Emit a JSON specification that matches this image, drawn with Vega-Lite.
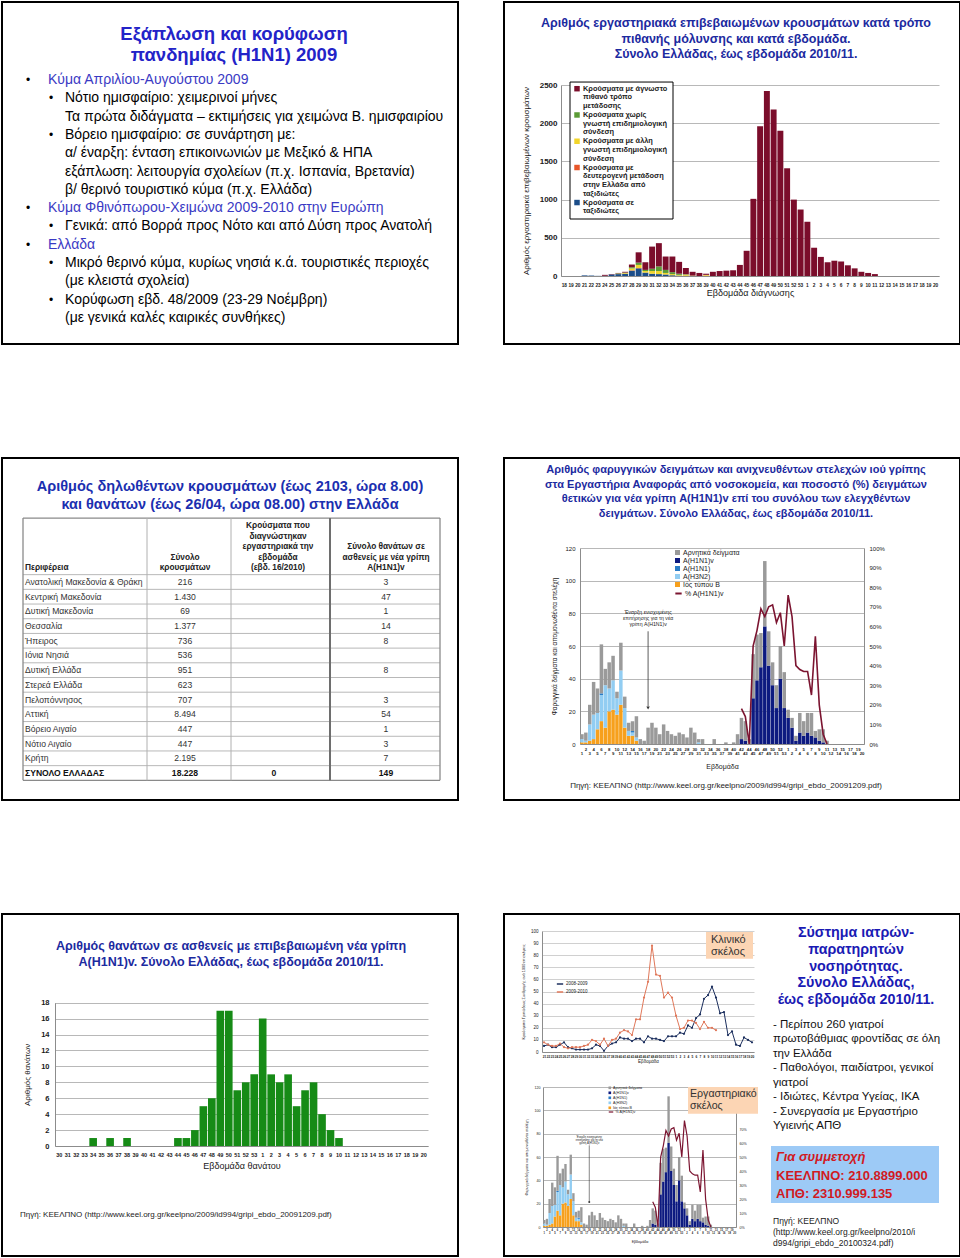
{
"$schema":"https://vega.github.io/schema/vega-lite/v6.json",
"background":"white",
"padding":{"left":1,"top":1,"right":1,"bottom":1},
"columns":2,
"spacing":{"row":114,"column":46},
"bounds":"flush",
"config":{
 "font":"Liberation Sans",
 "view":{"stroke":"#000000","strokeWidth":2,"fill":"#ffffff"},
 "axis":{"labelFont":"Liberation Sans","titleFont":"Liberation Sans","labelColor":"#1a1a1a","titleColor":"#1a1a1a","titleFontWeight":"normal","domainColor":"#8c8c8c","domainWidth":1,"gridColor":"#a6a6a6","gridWidth":0.8,"ticks":false,"labelOverlap":false,"labelFlush":false,"labelBound":false},
 "legend":{"labelFont":"Liberation Sans","labelColor":"#1a1a1a"},
 "text":{"font":"Liberation Sans"}
},
"datasets":{
 "p1":[
  {"line":1,"lvl":1,"b":1,"t":"Κύμα Απριλίου-Αυγούστου 2009"},
  {"line":2,"lvl":2,"b":1,"t":"Νότιο ημισφαίριο: χειμερινοί μήνες"},
  {"line":3,"lvl":2,"b":0,"t":"Τα πρώτα διδάγματα – εκτιμήσεις για χειμώνα Β. ημισφαιρίου"},
  {"line":4,"lvl":2,"b":1,"t":"Βόρειο ημισφαίριο: σε συνάρτηση με:"},
  {"line":5,"lvl":2,"b":0,"t":"α/ έναρξη: ένταση επικοινωνιών με Μεξικό & ΗΠΑ"},
  {"line":6,"lvl":2,"b":0,"t":"εξάπλωση: λειτουργία σχολείων (π.χ. Ισπανία, Βρετανία)"},
  {"line":7,"lvl":2,"b":0,"t":"β/ θερινό τουριστικό κύμα (π.χ. Ελλάδα)"},
  {"line":8,"lvl":1,"b":1,"t":"Κύμα Φθινόπωρου-Χειμώνα 2009-2010 στην Ευρώπη"},
  {"line":9,"lvl":2,"b":1,"t":"Γενικά: από Βορρά προς Νότο και από Δύση προς Ανατολή"},
  {"line":10,"lvl":1,"b":1,"t":"Ελλάδα"},
  {"line":11,"lvl":2,"b":1,"t":"Μικρό θερινό κύμα, κυρίως νησιά κ.ά. τουριστικές περιοχές"},
  {"line":12,"lvl":2,"b":0,"t":"(με κλειστά σχολεία)"},
  {"line":13,"lvl":2,"b":1,"t":"Κορύφωση εβδ. 48/2009 (23-29 Νοέμβρη)"},
  {"line":14,"lvl":2,"b":0,"t":"(με γενικά καλές καιρικές συνθήκες)"}
 ],
 "p2leg":[
  {"ln":1,"t":"Κρούσματα με άγνωστο","k":"e"},{"ln":2,"t":"πιθανό τρόπο"},{"ln":3,"t":"μετάδοσης"},
  {"ln":4,"t":"Κρούσματα χωρίς","k":"d"},{"ln":5,"t":"γνωστή επιδημιολογική"},{"ln":6,"t":"σύνδεση"},
  {"ln":7,"t":"Κρούσματα με άλλη","k":"c"},{"ln":8,"t":"γνωστή επιδημιολογική"},{"ln":9,"t":"σύνδεση"},
  {"ln":10,"t":"Κρούσματα με","k":"b"},{"ln":11,"t":"δευτερογενή μετάδοση"},{"ln":12,"t":"στην Ελλάδα από"},{"ln":13,"t":"ταξιδιώτες"},
  {"ln":14,"t":"Κρούσματα σε","k":"a"},{"ln":15,"t":"ταξιδιώτες"}
 ],
 "cases":[
  {"i":0,"a":0,"b":0,"c":0,"d":0,"e":0},{"i":1,"a":0,"b":0,"c":0,"d":0,"e":0},{"i":2,"a":0,"b":0,"c":0,"d":0,"e":0},
  {"i":3,"a":8,"b":0,"c":0,"d":0,"e":0},{"i":4,"a":6,"b":0,"c":0,"d":0,"e":0},{"i":5,"a":2,"b":0,"c":0,"d":0,"e":0},
  {"i":6,"a":3,"b":0,"c":0,"d":0,"e":12},{"i":7,"a":20,"b":0,"c":0,"d":0,"e":5},{"i":8,"a":25,"b":0,"c":5,"d":5,"e":5},
  {"i":9,"a":30,"b":0,"c":10,"d":5,"e":10},{"i":10,"a":70,"b":5,"c":25,"d":15,"e":35},{"i":11,"a":100,"b":5,"c":40,"d":30,"e":135},
  {"i":12,"a":45,"b":0,"c":20,"d":15,"e":100},{"i":13,"a":30,"b":0,"c":35,"d":30,"e":290},{"i":14,"a":25,"b":0,"c":40,"d":60,"e":305},
  {"i":15,"a":20,"b":0,"c":20,"d":40,"e":175},{"i":16,"a":10,"b":0,"c":15,"d":25,"e":205},{"i":17,"a":5,"b":0,"c":10,"d":15,"e":155},
  {"i":18,"a":3,"b":0,"c":15,"d":5,"e":82},{"i":19,"a":0,"b":0,"c":5,"d":0,"e":50},{"i":20,"a":0,"b":0,"c":0,"d":0,"e":40},
  {"i":21,"a":0,"b":5,"c":10,"d":0,"e":15},{"i":22,"a":0,"b":0,"c":0,"d":0,"e":55},{"i":23,"a":0,"b":0,"c":0,"d":0,"e":65},
  {"i":24,"a":0,"b":0,"c":0,"d":0,"e":70},{"i":25,"a":0,"b":0,"c":0,"d":0,"e":75},{"i":26,"a":0,"b":0,"c":0,"d":0,"e":145},
  {"i":27,"a":0,"b":0,"c":0,"d":0,"e":330},{"i":28,"a":0,"b":0,"c":0,"d":0,"e":1010},{"i":29,"a":0,"b":0,"c":0,"d":0,"e":1960},
  {"i":30,"a":0,"b":0,"c":0,"d":0,"e":2420},{"i":31,"a":0,"b":0,"c":0,"d":0,"e":2180},{"i":32,"a":0,"b":0,"c":0,"d":0,"e":1900},
  {"i":33,"a":0,"b":0,"c":0,"d":0,"e":1410},{"i":34,"a":0,"b":0,"c":0,"d":0,"e":1000},{"i":35,"a":0,"b":0,"c":0,"d":0,"e":870},
  {"i":36,"a":0,"b":0,"c":0,"d":0,"e":710},{"i":37,"a":0,"b":0,"c":0,"d":0,"e":370},{"i":38,"a":0,"b":0,"c":0,"d":0,"e":250},
  {"i":39,"a":0,"b":0,"c":0,"d":0,"e":180},{"i":40,"a":0,"b":0,"c":0,"d":0,"e":200},{"i":41,"a":0,"b":0,"c":0,"d":0,"e":190},
  {"i":42,"a":0,"b":0,"c":0,"d":0,"e":140},{"i":43,"a":0,"b":0,"c":0,"d":0,"e":100},{"i":44,"a":0,"b":0,"c":0,"d":0,"e":55},
  {"i":45,"a":0,"b":0,"c":0,"d":0,"e":40},{"i":46,"a":0,"b":0,"c":0,"d":0,"e":25},{"i":47,"a":0,"b":0,"c":0,"d":0,"e":0},
  {"i":48,"a":0,"b":0,"c":0,"d":0,"e":0},{"i":49,"a":0,"b":0,"c":0,"d":0,"e":0},{"i":50,"a":0,"b":0,"c":0,"d":0,"e":0},
  {"i":51,"a":0,"b":0,"c":0,"d":0,"e":0},{"i":52,"a":0,"b":0,"c":0,"d":0,"e":0},{"i":53,"a":0,"b":0,"c":0,"d":0,"e":0},
  {"i":54,"a":0,"b":0,"c":0,"d":0,"e":0},{"i":55,"a":0,"b":0,"c":0,"d":0,"e":0}
 ],
 "p3":[
  {"r":0,"reg":"Ανατολική Μακεδονία & Θράκη","cases":"216","lab":"","deaths":"3"},
  {"r":1,"reg":"Κεντρική Μακεδονία","cases":"1.430","lab":"","deaths":"47"},
  {"r":2,"reg":"Δυτική Μακεδονία","cases":"69","lab":"","deaths":"1"},
  {"r":3,"reg":"Θεσσαλία","cases":"1.377","lab":"","deaths":"14"},
  {"r":4,"reg":"Ήπειρος","cases":"736","lab":"","deaths":"8"},
  {"r":5,"reg":"Ιόνια Νησιά","cases":"536","lab":"","deaths":""},
  {"r":6,"reg":"Δυτική Ελλάδα","cases":"951","lab":"","deaths":"8"},
  {"r":7,"reg":"Στερεά Ελλάδα","cases":"623","lab":"","deaths":""},
  {"r":8,"reg":"Πελοπόννησος","cases":"707","lab":"","deaths":"3"},
  {"r":9,"reg":"Αττική","cases":"8.494","lab":"","deaths":"54"},
  {"r":10,"reg":"Βόρειο Αιγαίο","cases":"447","lab":"","deaths":"1"},
  {"r":11,"reg":"Νότιο Αιγαίο","cases":"447","lab":"","deaths":"3"},
  {"r":12,"reg":"Κρήτη","cases":"2.195","lab":"","deaths":"7"},
  {"r":13,"reg":"ΣΥΝΟΛΟ ΕΛΛΑΔΑΣ","cases":"18.228","lab":"0","deaths":"149"}
 ],
 "p3head":[
  {"c":1,"hl":5,"t":"Περιφέρεια"},
  {"c":2,"hl":4,"t":"Σύνολο"},{"c":2,"hl":5,"t":"κρουσμάτων"},
  {"c":3,"hl":1,"t":"Κρούσματα που"},{"c":3,"hl":2,"t":"διαγνώστηκαν"},{"c":3,"hl":3,"t":"εργαστηριακά την"},{"c":3,"hl":4,"t":"εβδομάδα"},{"c":3,"hl":5,"t":"(εβδ. 16/2010)"},
  {"c":4,"hl":3,"t":"Σύνολο θανάτων σε"},{"c":4,"hl":4,"t":"ασθενείς με νέα γρίπη"},{"c":4,"hl":5,"t":"A(H1N1)v"}
 ],
 "samples":[
  {"i":0,"k1":1,"k2":2,"k3":0,"k4":0,"k5":3},{"i":1,"k1":1,"k2":1,"k3":0,"k4":0,"k5":5},{"i":2,"k1":2,"k2":10,"k3":0,"k4":0,"k5":12},
  {"i":3,"k1":3,"k2":15,"k3":0,"k4":0,"k5":20},{"i":4,"k1":9,"k2":10,"k3":0,"k4":0,"k5":15},{"i":5,"k1":14,"k2":16,"k3":1,"k4":0,"k5":30},
  {"i":6,"k1":10,"k2":26,"k3":0,"k4":0,"k5":10},{"i":7,"k1":20,"k2":14,"k3":0,"k4":0,"k5":16},{"i":8,"k1":21,"k2":18,"k3":0,"k4":0,"k5":15},
  {"i":9,"k1":18,"k2":10,"k3":0,"k4":0,"k5":4},{"i":10,"k1":24,"k2":21,"k3":0,"k4":0,"k5":17},{"i":11,"k1":10,"k2":12,"k3":0,"k4":0,"k5":7},
  {"i":12,"k1":5,"k2":3,"k3":0,"k4":0,"k5":5},{"i":13,"k1":5,"k2":2,"k3":1,"k4":0,"k5":6},{"i":14,"k1":2,"k2":2,"k3":0,"k4":0,"k5":13},
  {"i":15,"k1":0,"k2":0,"k3":0,"k4":0,"k5":3},{"i":16,"k1":0,"k2":0,"k3":0,"k4":0,"k5":2},{"i":17,"k1":0,"k2":0,"k3":0,"k4":0,"k5":10},
  {"i":18,"k1":0,"k2":0,"k3":0,"k4":0,"k5":13},{"i":19,"k1":0,"k2":0,"k3":0,"k4":0,"k5":10},{"i":20,"k1":0,"k2":0,"k3":0,"k4":0,"k5":6},
  {"i":21,"k1":0,"k2":0,"k3":0,"k4":0,"k5":12},{"i":22,"k1":0,"k2":0,"k3":0,"k4":0,"k5":8},{"i":23,"k1":0,"k2":0,"k3":0,"k4":0,"k5":6},
  {"i":24,"k1":0,"k2":0,"k3":0,"k4":0,"k5":5},{"i":25,"k1":0,"k2":0,"k3":0,"k4":0,"k5":7},{"i":26,"k1":0,"k2":0,"k3":0,"k4":0,"k5":6},
  {"i":27,"k1":0,"k2":0,"k3":0,"k4":0,"k5":4},{"i":28,"k1":0,"k2":0,"k3":0,"k4":0,"k5":10},{"i":29,"k1":0,"k2":0,"k3":0,"k4":0,"k5":7},
  {"i":30,"k1":0,"k2":1,"k3":0,"k4":0,"k5":2},{"i":31,"k1":0,"k2":0,"k3":0,"k4":0,"k5":3},{"i":32,"k1":0,"k2":0,"k3":0,"k4":0,"k5":0},
  {"i":33,"k1":0,"k2":0,"k3":0,"k4":0,"k5":0},{"i":34,"k1":0,"k2":0,"k3":0,"k4":0,"k5":3},{"i":35,"k1":0,"k2":0,"k3":0,"k4":0,"k5":0},
  {"i":36,"k1":0,"k2":0,"k3":0,"k4":0,"k5":0},{"i":37,"k1":0,"k2":0,"k3":0,"k4":0,"k5":1},{"i":38,"k1":0,"k2":0,"k3":0,"k4":0,"k5":0},
  {"i":39,"k1":0,"k2":0,"k3":0,"k4":0,"k5":1},{"i":40,"k1":0,"k2":0,"k3":0,"k4":0,"k5":6},
  {"i":41,"k1":0,"k2":0,"k3":0,"k4":3,"k5":13,"p":0.18},{"i":42,"k1":0,"k2":0,"k3":0,"k4":2,"k5":12,"p":0.14},
  {"i":43,"k1":0,"k2":0,"k3":0,"k4":0,"k5":3,"p":0},{"i":44,"k1":0,"k2":0,"k3":0,"k4":28,"k5":27,"p":0.5},
  {"i":45,"k1":0,"k2":0,"k3":0,"k4":39,"k5":28,"p":0.58},{"i":46,"k1":0,"k2":0,"k3":0,"k4":47,"k5":21,"p":0.69},
  {"i":47,"k1":0,"k2":0,"k3":0,"k4":72,"k5":40,"p":0.65},{"i":48,"k1":0,"k2":0,"k3":0,"k4":48,"k5":21,"p":0.7},
  {"i":49,"k1":0,"k2":0,"k3":0,"k4":36,"k5":14,"p":0.71},{"i":50,"k1":0,"k2":0,"k3":0,"k4":22,"k5":14,"p":0.62},
  {"i":51,"k1":0,"k2":0,"k3":0,"k4":40,"k5":20,"p":0.67},{"i":52,"k1":0,"k2":0,"k3":0,"k4":22,"k5":22,"p":0.5},
  {"i":53,"k1":0,"k2":0,"k3":0,"k4":16,"k5":5,"p":0.76},{"i":54,"k1":0,"k2":0,"k3":0,"k4":10,"k5":6,"p":0.65},
  {"i":55,"k1":0,"k2":0,"k3":0,"k4":2,"k5":3,"p":0.4},{"i":56,"k1":0,"k2":0,"k3":0,"k4":7,"k5":12,"p":0.38},
  {"i":57,"k1":0,"k2":0,"k3":0,"k4":5,"k5":9,"p":0.37},{"i":58,"k1":0,"k2":0,"k3":0,"k4":7,"k5":12,"p":0.37},
  {"i":59,"k1":0,"k2":0,"k3":0,"k4":5,"k5":14,"p":0.25},{"i":60,"k1":0,"k2":0,"k3":0,"k4":4,"k5":4,"p":0.55},
  {"i":61,"k1":0,"k2":0,"k3":0,"k4":2,"k5":7,"p":0.2},{"i":62,"k1":0,"k2":0,"k3":0,"k4":1,"k5":8,"p":0.05},
  {"i":63,"k1":0,"k2":0,"k3":0,"k4":0,"k5":2,"p":0},
  {"i":64,"k1":0,"k2":0,"k3":0,"k4":0,"k5":0},{"i":65,"k1":0,"k2":0,"k3":0,"k4":0,"k5":0},{"i":66,"k1":0,"k2":0,"k3":0,"k4":0,"k5":0},
  {"i":67,"k1":0,"k2":0,"k3":0,"k4":0,"k5":0},{"i":68,"k1":0,"k2":0,"k3":0,"k4":0,"k5":0},{"i":69,"k1":0,"k2":0,"k3":0,"k4":0,"k5":0},
  {"i":70,"k1":0,"k2":0,"k3":0,"k4":0,"k5":0},{"i":71,"k1":0,"k2":0,"k3":0,"k4":0,"k5":0},{"i":72,"k1":0,"k2":0,"k3":0,"k4":0,"k5":0}
 ],
 "deaths":[
  {"i":0,"n":0},{"i":1,"n":0},{"i":2,"n":0},{"i":3,"n":0},{"i":4,"n":1},{"i":5,"n":0},{"i":6,"n":1},{"i":7,"n":0},{"i":8,"n":1},{"i":9,"n":0},
  {"i":10,"n":0},{"i":11,"n":0},{"i":12,"n":0},{"i":13,"n":0},{"i":14,"n":1},{"i":15,"n":1},{"i":16,"n":2},{"i":17,"n":5},{"i":18,"n":6},{"i":19,"n":17},
  {"i":20,"n":17},{"i":21,"n":7},{"i":22,"n":8},{"i":23,"n":9},{"i":24,"n":16},{"i":25,"n":9},{"i":26,"n":8},{"i":27,"n":9},{"i":28,"n":5},{"i":29,"n":7},
  {"i":30,"n":8},{"i":31,"n":4},{"i":32,"n":2},{"i":33,"n":1},{"i":34,"n":0},{"i":35,"n":0},{"i":36,"n":0},{"i":37,"n":0},{"i":38,"n":0},{"i":39,"n":0},
  {"i":40,"n":0},{"i":41,"n":0},{"i":42,"n":0},{"i":43,"n":0}
 ],
 "sent":[
  {"i":0,"s08":5,"s09":8},{"i":1,"s08":6,"s09":6},{"i":2,"s08":4,"s09":5},{"i":3,"s08":4,"s09":5},{"i":4,"s08":6,"s09":7},
  {"i":5,"s08":8,"s09":4},{"i":6,"s08":4,"s09":3},{"i":7,"s08":3,"s09":4},{"i":8,"s08":2,"s09":4},{"i":9,"s08":2,"s09":4},
  {"i":10,"s08":2,"s09":5},{"i":11,"s08":2,"s09":6},{"i":12,"s08":3,"s09":10},{"i":13,"s08":6,"s09":9},{"i":14,"s08":5,"s09":6},
  {"i":15,"s08":1,"s09":11},{"i":16,"s08":5,"s09":5},{"i":17,"s08":7,"s09":10},{"i":18,"s08":8,"s09":11},{"i":19,"s08":12,"s09":16},
  {"i":20,"s08":11,"s09":18},{"i":21,"s08":11,"s09":17},{"i":22,"s08":9,"s09":14},{"i":23,"s08":11,"s09":27},{"i":24,"s08":11,"s09":27},
  {"i":25,"s08":8,"s09":45},{"i":26,"s08":13,"s09":58},{"i":27,"s08":11,"s09":88},{"i":28,"s08":11,"s09":64},{"i":29,"s08":10,"s09":63},
  {"i":30,"s08":9,"s09":45},{"i":31,"s08":13,"s09":49},{"i":32,"s08":13,"s09":45},{"i":33,"s08":13,"s09":30},{"i":34,"s08":16,"s09":19},
  {"i":35,"s08":15,"s09":20},{"i":36,"s08":22,"s09":26},{"i":37,"s08":20,"s09":26},{"i":38,"s08":28,"s09":24},{"i":39,"s08":31,"s09":19},
  {"i":40,"s08":44,"s09":25},{"i":41,"s08":47,"s09":20},{"i":42,"s08":54,"s09":20},{"i":43,"s08":45,"s09":18},{"i":44,"s08":32},
  {"i":45,"s08":33},{"i":46,"s08":14},{"i":47,"s08":17},{"i":48,"s08":6},{"i":49,"s08":5},{"i":50,"s08":12},{"i":51,"s08":10},{"i":52,"s08":8}
 ]
},
"concat":[
 {
  "width":456,"height":342,
  "resolve":{"scale":{"x":"independent","y":"independent"}},
  "layer":[
   {"data":{"values":[{"line":1,"t":"Εξάπλωση και κορύφωση"},{"line":2,"t":"πανδημίας (H1N1) 2009"}]},
    "mark":{"type":"text","fontSize":18.5,"fontWeight":"bold","color":"#2323c8"},
    "encoding":{"text":{"field":"t"},
     "x":{"datum":0.5,"type":"quantitative","scale":{"domain":[0,1],"range":[0,464]},"axis":null},
     "y":{"field":"line","type":"quantitative","scale":{"domain":[1,2],"range":[32,53],"zero":false,"nice":false},"axis":null}}},
   {"data":{"name":"p1"},"transform":[{"filter":"datum.lvl == 1"}],
    "mark":{"type":"text","align":"left","fontSize":14,"color":"#3a3ac4"},
    "encoding":{"text":{"field":"t"},
     "x":{"field":"lvl","type":"quantitative","scale":{"domain":[1,2],"range":[46,63],"zero":false,"nice":false},"axis":null},
     "y":{"field":"line","type":"quantitative","scale":{"domain":[1,14],"range":[78,316],"zero":false,"nice":false},"axis":null}}},
   {"data":{"name":"p1"},"transform":[{"filter":"datum.lvl == 2"}],
    "mark":{"type":"text","align":"left","fontSize":14,"color":"#000000"},
    "encoding":{"text":{"field":"t"},
     "x":{"field":"lvl","type":"quantitative","scale":{"domain":[1,2],"range":[46,63],"zero":false,"nice":false},"axis":null},
     "y":{"field":"line","type":"quantitative","scale":{"domain":[1,14],"range":[78,316],"zero":false,"nice":false},"axis":null}}},
   {"data":{"name":"p1"},"transform":[{"filter":"datum.b == 1 && datum.lvl == 1"}],
    "mark":{"type":"text","text":"•","dx":-20,"fontSize":12,"color":"#000000"},
    "encoding":{
     "x":{"field":"lvl","type":"quantitative","scale":{"domain":[1,2],"range":[46,63],"zero":false,"nice":false},"axis":null},
     "y":{"field":"line","type":"quantitative","scale":{"domain":[1,14],"range":[78,316],"zero":false,"nice":false},"axis":null}}},
   {"data":{"name":"p1"},"transform":[{"filter":"datum.b == 1 && datum.lvl == 2"}],
    "mark":{"type":"text","text":"•","dx":-14,"fontSize":12,"color":"#000000"},
    "encoding":{
     "x":{"field":"lvl","type":"quantitative","scale":{"domain":[1,2],"range":[46,63],"zero":false,"nice":false},"axis":null},
     "y":{"field":"line","type":"quantitative","scale":{"domain":[1,14],"range":[78,316],"zero":false,"nice":false},"axis":null}}}
  ]
 },
 {
  "width":456,"height":342,
  "resolve":{"scale":{"x":"independent","y":"independent","color":"independent"}},
  "layer":[
   {"data":{"values":[{"line":1,"t":"Αριθμός εργαστηριακά επιβεβαιωμένων κρουσμάτων κατά τρόπο"},{"line":2,"t":"πιθανής μόλυνσης και κατά εβδομάδα."},{"line":3,"t":"Σύνολο Ελλάδας, έως εβδομάδα 2010/11."}]},
    "mark":{"type":"text","fontSize":12.5,"fontWeight":"bold","color":"#1c2aa0"},
    "encoding":{"text":{"field":"t"},
     "x":{"datum":0.5,"type":"quantitative","scale":{"domain":[0,1],"range":[0,464]},"axis":null},
     "y":{"field":"line","type":"quantitative","scale":{"domain":[1,3],"range":[21,52],"zero":false,"nice":false},"axis":null}}},
   {"data":{"name":"cases"},
    "transform":[{"fold":["a","b","c","d","e"],"as":["k","n"]}],
    "mark":{"type":"bar"},
    "encoding":{
     "x":{"field":"i","type":"ordinal","scale":{"range":[57,435],"paddingInner":0.12,"paddingOuter":0.06},
      "axis":{"orient":"bottom","offset":-68,"labelAngle":0,"labelFontSize":4.8,"labelFontWeight":"bold","labelPadding":6,"labelExpr":"datum.value < 36 ? datum.value + 18 : datum.value - 35","title":"Εβδομάδα διάγνωσης","titleFontSize":9,"titlePadding":1.5}},
     "y":{"field":"n","type":"quantitative","scale":{"domain":[0,2500],"range":[274,83],"nice":false,"zero":false},
      "axis":{"orient":"left","offset":-57,"values":[0,500,1000,1500,2000,2500],"format":"d","labelFontSize":8,"labelFontWeight":"bold","labelPadding":4,"grid":true,"title":"Αριθμός εργαστηριακά επιβεβαιωμένων κρουσμάτων","titleFontSize":8,"titlePadding":9}},
     "color":{"field":"k","type":"nominal","scale":{"domain":["e","d","c","b","a"],"range":["#7b0d2b","#5b9b36","#f2d52a","#e8562a","#1b4d89"]},"legend":null},
     "order":{"field":"k","sort":"ascending"}}},
   {"data":{"values":[{}]},
    "mark":{"type":"rect","fill":"#ffffff","stroke":"#000000","strokeWidth":1},
    "encoding":{
     "x":{"datum":0,"type":"quantitative","scale":{"domain":[0,1],"range":[66,169]},"axis":null},"x2":{"datum":1},
     "y":{"datum":0.24,"type":"quantitative","scale":{"domain":[1,15],"range":[86.7,209.3],"zero":false,"nice":false},"axis":null},"y2":{"datum":15.88}}},
   {"data":{"name":"p2leg"},
    "mark":{"type":"text","align":"left","fontSize":7.4,"fontWeight":"bold","color":"#222222"},
    "encoding":{"text":{"field":"t"},
     "x":{"datum":0.126,"type":"quantitative","scale":{"domain":[0,1],"range":[66,169]},"axis":null},
     "y":{"field":"ln","type":"quantitative","scale":{"domain":[1,15],"range":[86.7,209.3],"zero":false,"nice":false},"axis":null}}},
   {"data":{"name":"p2leg"},"transform":[{"filter":"isValid(datum.k)"}],
    "mark":{"type":"square","size":30,"opacity":1},
    "encoding":{
     "x":{"datum":0.068,"type":"quantitative","scale":{"domain":[0,1],"range":[66,169]},"axis":null},
     "y":{"field":"ln","type":"quantitative","scale":{"domain":[1,15],"range":[86.7,209.3],"zero":false,"nice":false},"axis":null},
     "color":{"field":"k","type":"nominal","scale":{"domain":["e","d","c","b","a"],"range":["#7b0d2b","#5b9b36","#f2d52a","#e8562a","#1b4d89"]},"legend":null}}}
  ]
 },
 {
  "width":456,"height":342,
  "resolve":{"scale":{"x":"independent","y":"independent"}},
  "layer":[
   {"data":{"values":[{"line":1,"t":"Αριθμός δηλωθέντων κρουσμάτων (έως 2103, ώρα 8.00)"},{"line":2,"t":"και θανάτων (έως 26/04, ώρα 08.00) στην Ελλάδα"}]},
    "mark":{"type":"text","fontSize":14.5,"fontWeight":"bold","color":"#1b2fb0"},
    "encoding":{"text":{"field":"t"},
     "x":{"datum":0.5,"type":"quantitative","scale":{"domain":[0,1],"range":[0,456]},"axis":null},
     "y":{"field":"line","type":"quantitative","scale":{"domain":[1,2],"range":[29,47],"zero":false,"nice":false},"axis":null}}},
   {"data":{"values":[{"b":-0.5},{"b":0.5},{"b":1.5},{"b":2.5},{"b":3.5},{"b":4.5},{"b":5.5},{"b":6.5},{"b":7.5},{"b":8.5},{"b":9.5},{"b":10.5},{"b":11.5},{"b":12.5}]},
    "mark":{"type":"rule","color":"#b8b8b8","strokeWidth":1},
    "encoding":{
     "y":{"field":"b","type":"quantitative","scale":{"domain":[0,13],"range":[124,315],"zero":false,"nice":false},"axis":null},
     "x":{"datum":0,"type":"quantitative","scale":{"domain":[0,1,1.5,2,2.5,3,3.5,4,5],"range":[21,23,145,183,229,275,328,384,438],"zero":false,"nice":false},"axis":null},"x2":{"datum":5}}},
   {"data":{"values":[{"b":-4.35},{"b":13.5}]},
    "mark":{"type":"rule","color":"#8a8a8a","strokeWidth":1.3},
    "encoding":{
     "y":{"field":"b","type":"quantitative","scale":{"domain":[0,13],"range":[124,315],"zero":false,"nice":false},"axis":null},
     "x":{"datum":0,"type":"quantitative","scale":{"domain":[0,1,1.5,2,2.5,3,3.5,4,5],"range":[21,23,145,183,229,275,328,384,438],"zero":false,"nice":false},"axis":null},"x2":{"datum":5}}},
   {"data":{"values":[{"v":1.5},{"v":2.5}]},
    "mark":{"type":"rule","color":"#b0b0b0","strokeWidth":1},
    "encoding":{
     "x":{"field":"v","type":"quantitative","scale":{"domain":[0,1,1.5,2,2.5,3,3.5,4,5],"range":[21,23,145,183,229,275,328,384,438],"zero":false,"nice":false},"axis":null},
     "y":{"datum":-4.35,"type":"quantitative","scale":{"domain":[0,13],"range":[124,315],"zero":false,"nice":false},"axis":null},"y2":{"datum":13.5}}},
   {"data":{"values":[{"v":0},{"v":5}]},
    "mark":{"type":"rule","color":"#8a8a8a","strokeWidth":1.3},
    "encoding":{
     "x":{"field":"v","type":"quantitative","scale":{"domain":[0,1,1.5,2,2.5,3,3.5,4,5],"range":[21,23,145,183,229,275,328,384,438],"zero":false,"nice":false},"axis":null},
     "y":{"datum":-4.35,"type":"quantitative","scale":{"domain":[0,13],"range":[124,315],"zero":false,"nice":false},"axis":null},"y2":{"datum":13.5}}},
   {"data":{"values":[{"v":3.5}]},
    "mark":{"type":"rule","color":"#6e6e6e","strokeWidth":2},
    "encoding":{
     "x":{"field":"v","type":"quantitative","scale":{"domain":[0,1,1.5,2,2.5,3,3.5,4,5],"range":[21,23,145,183,229,275,328,384,438],"zero":false,"nice":false},"axis":null},
     "y":{"datum":-4.35,"type":"quantitative","scale":{"domain":[0,13],"range":[124,315],"zero":false,"nice":false},"axis":null},"y2":{"datum":13.5}}},
   {"data":{"name":"p3head"},"transform":[{"filter":"datum.c == 1"}],
    "mark":{"type":"text","align":"left","fontSize":8.3,"fontWeight":"bold","color":"#222222"},
    "encoding":{"text":{"field":"t"},
     "x":{"field":"c","type":"quantitative","scale":{"domain":[0,1,1.5,2,2.5,3,3.5,4,5],"range":[21,23,145,183,229,275,328,384,438],"zero":false,"nice":false},"axis":null},
     "y":{"field":"hl","type":"quantitative","scale":{"domain":[1,5],"range":[68,110],"zero":false,"nice":false},"axis":null}}},
   {"data":{"name":"p3head"},"transform":[{"filter":"datum.c > 1"}],
    "mark":{"type":"text","align":"center","fontSize":8.3,"fontWeight":"bold","color":"#222222"},
    "encoding":{"text":{"field":"t"},
     "x":{"field":"c","type":"quantitative","scale":{"domain":[0,1,1.5,2,2.5,3,3.5,4,5],"range":[21,23,145,183,229,276,328,384,438],"zero":false,"nice":false},"axis":null},
     "y":{"field":"hl","type":"quantitative","scale":{"domain":[1,5],"range":[68,110],"zero":false,"nice":false},"axis":null}}},
   {"data":{"name":"p3"},"transform":[{"filter":"datum.r < 13"}],
    "mark":{"type":"text","align":"left","fontSize":8.6,"color":"#333333"},
    "encoding":{"text":{"field":"reg"},
     "x":{"datum":1,"type":"quantitative","scale":{"domain":[0,1,1.5,2,2.5,3,3.5,4,5],"range":[21,23,145,183,229,275,328,384,438],"zero":false,"nice":false},"axis":null},
     "y":{"field":"r","type":"quantitative","scale":{"domain":[0,13],"range":[124,315],"zero":false,"nice":false},"axis":null}}},
   {"data":{"name":"p3"},"transform":[{"filter":"datum.r < 13"}],
    "mark":{"type":"text","align":"center","fontSize":8.6,"color":"#333333"},
    "encoding":{"text":{"field":"cases"},
     "x":{"datum":2,"type":"quantitative","scale":{"domain":[0,1,1.5,2,2.5,3,3.5,4,5],"range":[21,23,145,183,229,275,328,384,438],"zero":false,"nice":false},"axis":null},
     "y":{"field":"r","type":"quantitative","scale":{"domain":[0,13],"range":[124,315],"zero":false,"nice":false},"axis":null}}},
   {"data":{"name":"p3"},"transform":[{"filter":"datum.r < 13"}],
    "mark":{"type":"text","align":"center","fontSize":8.6,"color":"#333333"},
    "encoding":{"text":{"field":"deaths"},
     "x":{"datum":4,"type":"quantitative","scale":{"domain":[0,1,1.5,2,2.5,3,3.5,4,5],"range":[21,23,145,183,229,275,328,384,438],"zero":false,"nice":false},"axis":null},
     "y":{"field":"r","type":"quantitative","scale":{"domain":[0,13],"range":[124,315],"zero":false,"nice":false},"axis":null}}},
   {"data":{"name":"p3"},"transform":[{"filter":"datum.r == 13"}],
    "mark":{"type":"text","align":"left","fontSize":8.6,"fontWeight":"bold","color":"#111111"},
    "encoding":{"text":{"field":"reg"},
     "x":{"datum":1,"type":"quantitative","scale":{"domain":[0,1,1.5,2,2.5,3,3.5,4,5],"range":[21,23,145,183,229,275,328,384,438],"zero":false,"nice":false},"axis":null},
     "y":{"field":"r","type":"quantitative","scale":{"domain":[0,13],"range":[124,315],"zero":false,"nice":false},"axis":null}}},
   {"data":{"name":"p3"},"transform":[{"filter":"datum.r == 13"}],
    "mark":{"type":"text","align":"center","fontSize":8.6,"fontWeight":"bold","color":"#111111"},
    "encoding":{"text":{"field":"cases"},
     "x":{"datum":2,"type":"quantitative","scale":{"domain":[0,1,1.5,2,2.5,3,3.5,4,5],"range":[21,23,145,183,229,275,328,384,438],"zero":false,"nice":false},"axis":null},
     "y":{"field":"r","type":"quantitative","scale":{"domain":[0,13],"range":[124,315],"zero":false,"nice":false},"axis":null}}},
   {"data":{"name":"p3"},"transform":[{"filter":"datum.r == 13"}],
    "mark":{"type":"text","align":"center","fontSize":8.6,"fontWeight":"bold","color":"#111111"},
    "encoding":{"text":{"field":"lab"},
     "x":{"datum":3,"type":"quantitative","scale":{"domain":[0,1,1.5,2,2.5,3,3.5,4,5],"range":[21,23,145,183,229,272,328,384,438],"zero":false,"nice":false},"axis":null},
     "y":{"field":"r","type":"quantitative","scale":{"domain":[0,13],"range":[124,315],"zero":false,"nice":false},"axis":null}}},
   {"data":{"name":"p3"},"transform":[{"filter":"datum.r == 13"}],
    "mark":{"type":"text","align":"center","fontSize":8.6,"fontWeight":"bold","color":"#111111"},
    "encoding":{"text":{"field":"deaths"},
     "x":{"datum":4,"type":"quantitative","scale":{"domain":[0,1,1.5,2,2.5,3,3.5,4,5],"range":[21,23,145,183,229,275,328,384,438],"zero":false,"nice":false},"axis":null},
     "y":{"field":"r","type":"quantitative","scale":{"domain":[0,13],"range":[124,315],"zero":false,"nice":false},"axis":null}}}
  ]
 },
 {
  "width":456,"height":342,
  "resolve":{"scale":{"x":"independent","y":"independent","color":"independent","stroke":"independent"}},
  "layer":[
   {"data":{"values":[{"line":1,"t":"Αριθμός φαρυγγικών δειγμάτων και ανιχνευθέντων στελεχών ιού γρίπης"},{"line":2,"t":"στα Εργαστήρια Αναφοράς από νοσοκομεία, και ποσοστό (%) δειγμάτων"},{"line":3,"t":"θετικών για νέα γρίπη A(H1N1)v επί του συνόλου των ελεγχθέντων"},{"line":4,"t":"δειγμάτων. Σύνολο Ελλάδας, έως εβδομάδα 2010/11."}]},
    "mark":{"type":"text","fontSize":11,"fontWeight":"bold","color":"#1c2aa0"},
    "encoding":{"text":{"field":"t"},
     "x":{"datum":0.5,"type":"quantitative","scale":{"domain":[0,1],"range":[0,464]},"axis":null},
     "y":{"field":"line","type":"quantitative","scale":{"domain":[1,4],"range":[12,55.5],"zero":false,"nice":false},"axis":null}}},
   {
    "resolve":{"scale":{"y":"independent"}},
    "layer":[
     {"layer":[
       {"data":{"name":"samples"},"transform":[{"fold":["k1","k2","k3","k4","k5"],"as":["k","n"]}],
        "mark":{"type":"bar"},
        "encoding":{
         "x":{"field":"i","type":"ordinal","scale":{"range":[76,360],"paddingInner":0.1,"paddingOuter":0.05},
          "axis":{"orient":"bottom","offset":-56,"labelAngle":0,"labelFontSize":4.3,"labelFontWeight":"bold","labelPadding":{"condition":{"test":"datum.value % 2 == 1","value":3.2},"value":7.5},"labelExpr":"datum.value < 53 ? datum.value + 1 : datum.value - 52","title":"Εβδομάδα","titleFontSize":7,"titlePadding":6.5}},
         "y":{"field":"n","type":"quantitative","scale":{"domain":[0,120],"range":[286,90],"nice":false,"zero":false},
          "axis":{"orient":"left","offset":-76,"values":[0,20,40,60,80,100,120],"labelFontSize":6,"labelPadding":5,"grid":true,"title":"Φαρυγγικά δείγματα και απομονωθέντα στελέχη","titleFontSize":6.5,"titlePadding":7}},
         "color":{"field":"k","type":"nominal","scale":{"domain":["k5","k4","k3","k2","k1"],"range":["#9a9a9a","#0d1a80","#2a7cc6","#92cdf2","#f7a01c"]},
          "legend":{"orient":"none","legendX":170,"legendY":91,"title":null,"labelExpr":"datum.value == 'k5' ? 'Αρνητικά δείγματα' : datum.value == 'k4' ? 'A(H1N1)v' : datum.value == 'k3' ? 'A(H1N1)' : datum.value == 'k2' ? 'A(H3N2)' : 'Ιός τύπου Β'","symbolType":"square","symbolSize":25,"symbolStrokeWidth":0,"labelFontSize":7,"rowPadding":0,"labelOffset":2}},
         "order":{"field":"k","sort":"ascending"}}},
       {"data":{"values":[{}]},
        "mark":{"type":"text","fontSize":5.2,"lineHeight":6,"baseline":"top","color":"#222222","text":["Έναρξη ενισχυμένης","επιτήρησης για τη νέα","γρίπη A(H1N1)v"]},
        "encoding":{"x":{"datum":17,"type":"ordinal"},"y":{"datum":82,"type":"quantitative"}}},
       {"data":{"values":[{}]},
        "mark":{"type":"rule","color":"#333333","strokeWidth":0.8},
        "encoding":{"x":{"datum":17,"type":"ordinal"},"y":{"datum":69,"type":"quantitative"},"y2":{"datum":23}}},
       {"data":{"values":[{}]},
        "mark":{"type":"point","shape":"triangle-down","filled":true,"size":12,"color":"#333333","opacity":1},
        "encoding":{"x":{"datum":17,"type":"ordinal"},"y":{"datum":22,"type":"quantitative"}}}
     ]},
     {"data":{"name":"samples"},"transform":[{"filter":"isValid(datum.p)"}],
      "mark":{"type":"line","strokeWidth":1.6},
      "encoding":{
       "x":{"field":"i","type":"ordinal"},
       "y":{"field":"p","type":"quantitative","scale":{"domain":[0,1],"range":[286,90],"nice":false,"zero":false},
        "axis":{"orient":"right","offset":-96,"values":[0,0.1,0.2,0.3,0.4,0.5,0.6,0.7,0.8,0.9,1],"format":".0%","labelFontSize":6,"labelPadding":5,"grid":false,"title":null}},
       "stroke":{"datum":"% A(H1N1)v","type":"nominal","scale":{"range":["#7b1430"]},
        "legend":{"orient":"none","legendX":170,"legendY":131,"title":null,"symbolType":"stroke","symbolSize":40,"symbolStrokeWidth":2,"labelFontSize":7,"labelOffset":2}}}}
    ]
   },
   {"data":{"values":[{"t":"Πηγή: ΚΕΕΛΠΝΟ (http://www.keel.org.gr/keelpno/2009/id994/gripi_ebdo_20091209.pdf)"}]},
    "mark":{"type":"text","fontSize":8,"color":"#222222"},
    "encoding":{"text":{"field":"t"},
     "x":{"datum":0.5,"type":"quantitative","scale":{"domain":[0,1],"range":[0,444]},"axis":null},
     "y":{"datum":1,"type":"quantitative","scale":{"domain":[0,1],"range":[0,328]},"axis":null}}}
  ]
 },
 {
  "width":456,"height":342,
  "resolve":{"scale":{"x":"independent","y":"independent"}},
  "layer":[
   {"data":{"values":[{"line":1,"t":"Αριθμός θανάτων σε ασθενείς με επιβεβαιωμένη νέα γρίπη"},{"line":2,"t":"A(H1N1)v. Σύνολο Ελλάδας, έως εβδομάδα 2010/11."}]},
    "mark":{"type":"text","fontSize":12.5,"fontWeight":"bold","color":"#1c2aa0"},
    "encoding":{"text":{"field":"t"},
     "x":{"datum":0.5,"type":"quantitative","scale":{"domain":[0,1],"range":[0,458]},"axis":null},
     "y":{"field":"line","type":"quantitative","scale":{"domain":[1,2],"range":[32,48],"zero":false,"nice":false},"axis":null}}},
   {"data":{"name":"deaths"},
    "mark":{"type":"bar","color":"#168b16"},
    "encoding":{
     "x":{"field":"i","type":"ordinal","scale":{"range":[53,426],"paddingInner":0.1,"paddingOuter":0.05},
      "axis":{"orient":"bottom","offset":-110,"labelAngle":0,"labelFontSize":5.5,"labelFontWeight":"bold","labelPadding":6,"labelExpr":"datum.value < 24 ? datum.value + 30 : datum.value - 23","title":"Εβδομάδα θανάτου","titleFontSize":9,"titlePadding":3.5}},
     "y":{"field":"n","type":"quantitative","scale":{"domain":[0,18],"range":[232,88.7],"nice":false,"zero":false},
      "axis":{"orient":"left","offset":-53,"values":[0,2,4,6,8,10,12,14,16,18],"labelFontSize":7.5,"labelFontWeight":"bold","labelPadding":6,"grid":true,"title":"Αριθμός θανάτων","titleFontSize":8,"titlePadding":9}}}},
   {"data":{"values":[{"t":"Πηγή: ΚΕΕΛΠΝΟ (http://www.keel.org.gr/keelpno/2009/id994/gripi_ebdo_20091209.pdf)"}]},
    "mark":{"type":"text","align":"left","fontSize":8,"color":"#222222"},
    "encoding":{"text":{"field":"t"},
     "x":{"datum":0,"type":"quantitative","scale":{"domain":[0,1],"range":[18,456]},"axis":null},
     "y":{"datum":1,"type":"quantitative","scale":{"domain":[0,1],"range":[0,301]},"axis":null}}}
  ]
 },
 {
  "width":456,"height":342,
  "resolve":{"scale":{"x":"independent","y":"independent","color":"independent","stroke":"independent"}},
  "layer":[
   {"data":{"name":"sent"},"transform":[{"fold":["s08","s09"],"as":["k","v"]},{"filter":"isValid(datum.v)"}],
    "mark":{"type":"line","strokeWidth":1,"point":{"filled":true,"size":5}},
    "encoding":{
     "x":{"field":"i","type":"ordinal","scale":{"range":[38,250]},
      "axis":{"orient":"bottom","offset":-204,"labelAngle":0,"labelFontSize":3.2,"labelFontWeight":"bold","labelPadding":2,"labelExpr":"datum.value < 33 ? datum.value + 21 : datum.value - 32","title":"Εβδομάδα","titleFontSize":4.5,"titlePadding":1.5}},
     "y":{"field":"v","type":"quantitative","scale":{"domain":[0,100],"range":[138,17],"nice":false,"zero":false},
      "axis":{"orient":"left","offset":-38,"values":[0,10,20,30,40,50,60,70,80,90,100],"labelFontSize":4.5,"labelPadding":4,"grid":true,"gridColor":"#c4c4c4","title":"Κρούσματα Γριπώδους Συνδρομής ανά 1000 επισκέψεις","titleFontSize":3.8,"titlePadding":5}},
     "color":{"field":"k","type":"nominal","scale":{"domain":["s08","s09"],"range":["#1c2f5e","#e0785a"]},
      "legend":{"orient":"none","legendX":52,"legendY":66,"title":null,"labelExpr":"datum.value == 's08' ? '2008-2009' : '2009-2010'","labelFontSize":4.5,"symbolType":"stroke","symbolSize":40,"symbolStrokeWidth":1.5,"rowPadding":1,"labelOffset":2}}}},
   {
    "resolve":{"scale":{"y":"independent"}},
    "layer":[
     {"layer":[
       {"data":{"name":"samples"},"transform":[{"fold":["k1","k2","k3","k4","k5"],"as":["k","n"]}],
        "mark":{"type":"bar"},
        "encoding":{
         "x":{"field":"i","type":"ordinal","scale":{"range":[39,232],"paddingInner":0.1,"paddingOuter":0.05},
          "axis":{"orient":"bottom","offset":-29,"labelAngle":0,"labelFontSize":2.6,"labelFontWeight":"bold","labelPadding":{"condition":{"test":"datum.value % 2 == 1","value":2},"value":5},"labelExpr":"datum.value < 53 ? datum.value + 1 : datum.value - 52","title":"Εβδομάδα","titleFontSize":3.6,"titlePadding":5}},
         "y":{"field":"n","type":"quantitative","scale":{"domain":[0,120],"range":[313,173],"nice":false,"zero":false},
          "axis":{"orient":"left","offset":-39,"values":[0,20,40,60,80,100,120],"labelFontSize":3.6,"labelPadding":3,"grid":true,"title":"Φαρυγγικά δείγματα και απομονωθέντα στελέχη","titleFontSize":3.6,"titlePadding":6}},
         "color":{"field":"k","type":"nominal","scale":{"domain":["k5","k4","k3","k2","k1"],"range":["#9a9a9a","#0d1a80","#2a7cc6","#92cdf2","#f7a01c"]},
          "legend":{"orient":"none","legendX":104,"legendY":172,"title":null,"labelExpr":"datum.value == 'k5' ? 'Αρνητικά δείγματα' : datum.value == 'k4' ? 'A(H1N1)v' : datum.value == 'k3' ? 'A(H1N1)' : datum.value == 'k2' ? 'A(H3N2)' : 'Ιός τύπου Β'","symbolType":"square","symbolSize":7,"symbolStrokeWidth":0,"labelFontSize":3.6,"rowPadding":0,"labelOffset":1.5}},
         "order":{"field":"k","sort":"ascending"}}},
       {"data":{"values":[{}]},
        "mark":{"type":"text","fontSize":2.8,"lineHeight":3,"baseline":"top","color":"#222222","text":["Έναρξη ενισχυμένης","επιτήρησης για τη νέα","γρίπη A(H1N1)v"]},
        "encoding":{"x":{"datum":17,"type":"ordinal"},"y":{"datum":78,"type":"quantitative"}}},
       {"data":{"values":[{}]},
        "mark":{"type":"rule","color":"#333333","strokeWidth":0.6},
        "encoding":{"x":{"datum":17,"type":"ordinal"},"y":{"datum":70,"type":"quantitative"},"y2":{"datum":22}}},
       {"data":{"values":[{}]},
        "mark":{"type":"point","shape":"circle","filled":true,"size":4,"color":"#333333","opacity":1},
        "encoding":{"x":{"datum":17,"type":"ordinal"},"y":{"datum":21.5,"type":"quantitative"}}}
     ]},
     {"data":{"name":"samples"},"transform":[{"filter":"isValid(datum.p)"}],
      "mark":{"type":"line","strokeWidth":1.2},
      "encoding":{
       "x":{"field":"i","type":"ordinal"},
       "y":{"field":"p","type":"quantitative","scale":{"domain":[0,1],"range":[313,173],"nice":false,"zero":false},
        "axis":{"orient":"right","offset":-224,"values":[0,0.1,0.2,0.3,0.4,0.5,0.6,0.7],"format":".0%","labelFontSize":3.6,"labelPadding":3,"grid":false,"title":null}},
       "stroke":{"datum":"% A(H1N1)v","type":"nominal","scale":{"range":["#7b1430"]},
        "legend":{"orient":"none","legendX":104,"legendY":195,"title":null,"symbolType":"stroke","symbolSize":20,"symbolStrokeWidth":1.2,"labelFontSize":3.6,"labelOffset":1.5}}}}
    ]
   },
   {"data":{"values":[{}]},
    "mark":{"type":"rect","fill":"#fcd5b4"},
    "encoding":{
     "x":{"datum":0,"type":"quantitative","scale":{"domain":[0,1],"range":[202,249]},"axis":null},"x2":{"datum":1},
     "y":{"datum":0,"type":"quantitative","scale":{"domain":[0,1],"range":[18,44.7]},"axis":null},"y2":{"datum":1}}},
   {"data":{"values":[{"line":1,"t":"Κλινικό"},{"line":2,"t":"σκέλος"}]},
    "mark":{"type":"text","align":"left","fontSize":11,"color":"#333333"},
    "encoding":{"text":{"field":"t"},
     "x":{"datum":0,"type":"quantitative","scale":{"domain":[0,1],"range":[207,456]},"axis":null},
     "y":{"field":"line","type":"quantitative","scale":{"domain":[1,2],"range":[26.3,38],"zero":false,"nice":false},"axis":null}}},
   {"data":{"values":[{}]},
    "mark":{"type":"rect","fill":"#fcd5b4"},
    "encoding":{
     "x":{"datum":0,"type":"quantitative","scale":{"domain":[0,1],"range":[184,254]},"axis":null},"x2":{"datum":1},
     "y":{"datum":0,"type":"quantitative","scale":{"domain":[0,1],"range":[173,199.7]},"axis":null},"y2":{"datum":1}}},
   {"data":{"values":[{"line":1,"t":"Εργαστηριακό"},{"line":2,"t":"σκέλος"}]},
    "mark":{"type":"text","align":"left","fontSize":10.6,"color":"#333333"},
    "encoding":{"text":{"field":"t"},
     "x":{"datum":0,"type":"quantitative","scale":{"domain":[0,1],"range":[186,456]},"axis":null},
     "y":{"field":"line","type":"quantitative","scale":{"domain":[1,2],"range":[179.7,192.3],"zero":false,"nice":false},"axis":null}}},
   {"data":{"values":[{"line":1,"t":"Σύστημα ιατρών-"},{"line":2,"t":"παρατηρητών"},{"line":3,"t":"νοσηρότητας."},{"line":4,"t":"Σύνολο Ελλάδας,"},{"line":5,"t":"έως εβδομάδα 2010/11."}]},
    "mark":{"type":"text","fontSize":14.3,"fontWeight":"bold","color":"#1a1ab4"},
    "encoding":{"text":{"field":"t"},
     "x":{"datum":0.5,"type":"quantitative","scale":{"domain":[0,1],"range":[0,704]},"axis":null},
     "y":{"field":"line","type":"quantitative","scale":{"domain":[1,5],"range":[19,86],"zero":false,"nice":false},"axis":null}}},
   {"data":{"values":[{"line":1,"t":"- Περίπου 260 γιατροί"},{"line":2,"t":"πρωτοβάθμιας φροντίδας σε όλη"},{"line":3,"t":"την Ελλάδα"},{"line":4,"t":"- Παθολόγοι, παιδίατροι, γενικοί"},{"line":5,"t":"γιατροί"},{"line":6,"t":"- Ιδιώτες, Κέντρα Υγείας, ΙΚΑ"},{"line":7,"t":"- Συνεργασία με Εργαστήριο"},{"line":8,"t":"Υγιεινής ΑΠΘ"}]},
    "mark":{"type":"text","align":"left","fontSize":11.5,"color":"#111111"},
    "encoding":{"text":{"field":"t"},
     "x":{"datum":0,"type":"quantitative","scale":{"domain":[0,1],"range":[269,456]},"axis":null},
     "y":{"field":"line","type":"quantitative","scale":{"domain":[1,8],"range":[111,212],"zero":false,"nice":false},"axis":null}}},
   {"data":{"values":[{}]},
    "mark":{"type":"rect","fill":"#9dcaf6"},
    "encoding":{
     "x":{"datum":0,"type":"quantitative","scale":{"domain":[0,1],"range":[267,435]},"axis":null},"x2":{"datum":1},
     "y":{"datum":0,"type":"quantitative","scale":{"domain":[0,1],"range":[232,289]},"axis":null},"y2":{"datum":1}}},
   {"data":{"values":[{"line":1,"t":"Για συμμετοχή"}]},
    "mark":{"type":"text","align":"left","fontSize":13,"fontWeight":"bold","fontStyle":"italic","color":"#d11a1f"},
    "encoding":{"text":{"field":"t"},
     "x":{"datum":0,"type":"quantitative","scale":{"domain":[0,1],"range":[272,456]},"axis":null},
     "y":{"field":"line","type":"quantitative","scale":{"domain":[1,3],"range":[243,280],"zero":false,"nice":false},"axis":null}}},
   {"data":{"values":[{"line":2,"t":"ΚΕΕΛΠΝΟ: 210.8899.000"},{"line":3,"t":"ΑΠΘ: 2310.999.135"}]},
    "mark":{"type":"text","align":"left","fontSize":13,"fontWeight":"bold","color":"#d11a1f"},
    "encoding":{"text":{"field":"t"},
     "x":{"datum":0,"type":"quantitative","scale":{"domain":[0,1],"range":[272,456]},"axis":null},
     "y":{"field":"line","type":"quantitative","scale":{"domain":[1,3],"range":[243,280],"zero":false,"nice":false},"axis":null}}},
   {"data":{"values":[{"line":1,"t":"Πηγή: ΚΕΕΛΠΝΟ"},{"line":2,"t":"(http://www.keel.org.gr/keelpno/2010/i"},{"line":3,"t":"d994/gripi_ebdo_20100324.pdf)"}]},
    "mark":{"type":"text","align":"left","fontSize":8.5,"color":"#222222"},
    "encoding":{"text":{"field":"t"},
     "x":{"datum":0,"type":"quantitative","scale":{"domain":[0,1],"range":[269,456]},"axis":null},
     "y":{"field":"line","type":"quantitative","scale":{"domain":[1,3],"range":[307,329],"zero":false,"nice":false},"axis":null}}}
  ]
 }
]
}
